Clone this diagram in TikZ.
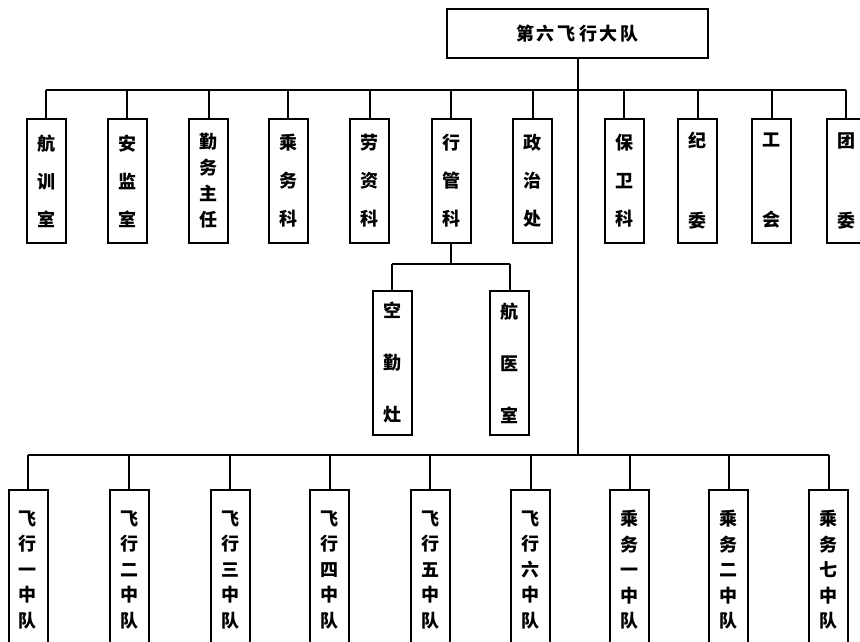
\documentclass[tikz,border=0pt]{standalone}
\usepackage{fontspec}
\newfontfamily\cjk{Noto Sans CJK SC}
\tikzset{
  org/.style={draw, line width=2pt, inner sep=0pt, align=center},
  vbox/.style 2 args={org, minimum width=39pt, minimum height=#1,
    font=\cjk\bfseries\fontsize{18}{#2}\selectfont},
  wire/.style={line width=2pt}
}
\begin{document}
\begin{tikzpicture}[x=1pt, y=-1pt]
  \useasboundingbox (0,0) rectangle (860,641);
  \clip (0,0) rectangle (860,641);

  % head office
  \node[org, minimum width=261pt, minimum height=49pt,
        font=\cjk\bfseries\fontsize{18}{20}\selectfont] (top) at (577.5,33.5) {第\,六\,飞\,行\,大\,队};

  % first row of departments
  \node[vbox={124pt}{38pt}] (h1) at (46,181)   {航\\训\\室};
  \node[vbox={124pt}{38pt}] (h2) at (127,181)  {安\\监\\室};
  \node[vbox={124pt}{26pt}] (h3) at (208.5,181){勤\\务\\主\\任};
  \node[vbox={124pt}{38pt}] (h4) at (288,181)  {乘\\务\\科};
  \node[vbox={124pt}{38pt}] (h5) at (369.5,181){劳\\资\\科};
  \node[vbox={124pt}{38pt}] (h6) at (451,181)  {行\\管\\科};
  \node[vbox={124pt}{38pt}] (h7) at (532.5,181){政\\治\\处};
  \node[vbox={124pt}{38pt}] (h8) at (624,181)  {保\\卫\\科};
  \node[vbox={124pt}{80pt}] (h9) at (697.5,181){纪\\委};
  \node[vbox={124pt}{80pt}] (h10) at (771.5,181){工\\会};
  \node[vbox={124pt}{80pt}] (h11) at (846,181) {团\\委};

  % units under the admin section
  \node[vbox={144pt}{52pt}] (s1) at (392,363)   {空\\勤\\灶};
  \node[vbox={144pt}{52pt}] (s2) at (509.5,363) {航\\医\\室};

  % squadrons
  \node[vbox={160pt}{25.5pt}] (q1) at (28,570)    {飞\\行\\一\\中\\队};
  \node[vbox={160pt}{25.5pt}] (q2) at (129,570)   {飞\\行\\二\\中\\队};
  \node[vbox={160pt}{25.5pt}] (q3) at (230,570)   {飞\\行\\三\\中\\队};
  \node[vbox={160pt}{25.5pt}] (q4) at (329.5,570) {飞\\行\\四\\中\\队};
  \node[vbox={160pt}{25.5pt}] (q5) at (430,570)   {飞\\行\\五\\中\\队};
  \node[vbox={160pt}{25.5pt}] (q6) at (530.5,570) {飞\\行\\六\\中\\队};
  \node[vbox={160pt}{25.5pt}] (q7) at (629.5,570) {乘\\务\\一\\中\\队};
  \node[vbox={160pt}{25.5pt}] (q8) at (728.5,570) {乘\\务\\二\\中\\队};
  \node[vbox={160pt}{25.5pt}] (q9) at (828.5,570) {乘\\务\\七\\中\\队};

  % bus lines
  \coordinate (busA) at (0,90);
  \coordinate (busS) at (0,264);
  \coordinate (busB) at (0,455);

  \draw[wire] (top.south) -- (top.south |- busB);
  \draw[wire] (h1.north |- busA) -- (h11.north |- busA);
  \foreach \n in {h1,h2,h3,h4,h5,h6,h7,h8,h9,h10,h11}
    \draw[wire] (\n.north) -- (\n.north |- busA);

  \draw[wire] (h6.south) -- (h6.south |- busS);
  \draw[wire] (s1.north |- busS) -- (s2.north |- busS);
  \foreach \n in {s1,s2}
    \draw[wire] (\n.north) -- (\n.north |- busS);

  \draw[wire] (q1.north |- busB) -- (q9.north |- busB);
  \foreach \n in {q1,q2,q3,q4,q5,q6,q7,q8,q9}
    \draw[wire] (\n.north) -- (\n.north |- busB);
\end{tikzpicture}
\end{document}
